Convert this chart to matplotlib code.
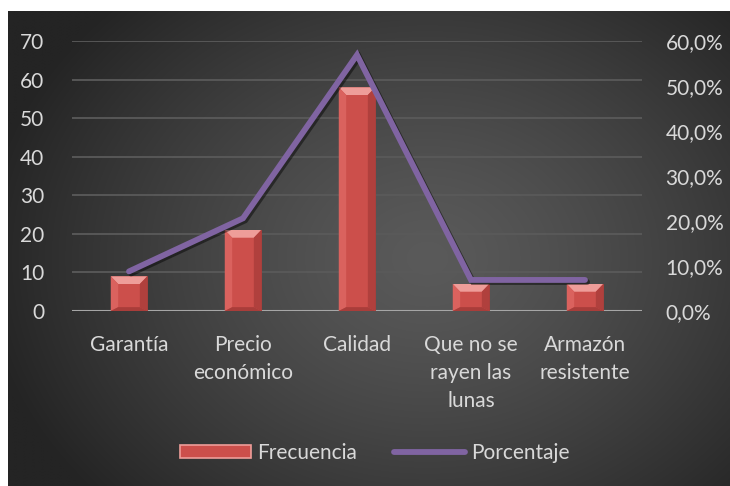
import numpy as np
import matplotlib
matplotlib.use("Agg")
import matplotlib.pyplot as plt
from matplotlib.patches import Polygon
from matplotlib import patheffects as pe
from matplotlib.lines import Line2D
from matplotlib.patches import Patch

plt.rcParams['font.family'] = ['Lato', 'DejaVu Sans']

categories = ["Garantía", "Precio\neconómico", "Calidad", "Que no se\nrayen las\nlunas", "Armazón\nresistente"]
frecuencia = [9, 21, 58, 7, 7]
porcentaje = [0.088, 0.206, 0.569, 0.069, 0.069]
left_ticks = [0, 10, 20, 30, 40, 50, 60, 70]
right_ticks = [0.0, 0.1, 0.2, 0.3, 0.4, 0.5, 0.6]

W, H = 730, 486
fig = plt.figure(figsize=(W / 100, H / 100), dpi=100)
fig.patch.set_facecolor("white")

# dark radial-gradient panel
bg = fig.add_axes([8 / W, 0, (W - 8) / W, (H - 11) / H])
bg.set_axis_off()
ny, nx = 300, 450
yy, xx = np.mgrid[0:ny, 0:nx]
cx, cy = nx * 0.58, ny * 0.52
r = np.sqrt(((xx - cx) / (nx * 0.62)) ** 2 + ((yy - cy) / (ny * 0.75)) ** 2)
r = np.clip(r, 0, 1)
inner, outer = 0x5a, 0x24
val = (inner + (outer - inner) * r ** 1.3) / 255.0
img = np.dstack([val, val, val])
bg.imshow(img, aspect="auto", extent=[0, 1, 0, 1], interpolation="bilinear")
bg.set_xlim(0, 1)
bg.set_ylim(0, 1)

txt = "#d9d9d9"
fs = 15

ax = fig.add_axes([72 / W, (H - 311) / H, (642 - 72) / W, (311 - 41) / H])
ax.patch.set_alpha(0)
x = np.arange(len(categories))
ax.set_xlim(-0.5, len(categories) - 0.5)
ax.set_ylim(0, 70)
ax.set_yticks(left_ticks)
ax.set_yticklabels([str(t) for t in left_ticks])
for t in left_ticks[1:]:
    ax.axhline(t, color="#5a5a5a", lw=1.3, zorder=0)
ax.axhline(0, color="#a6a6a6", lw=1.5, zorder=1)
for s in ax.spines.values():
    s.set_visible(False)
ax.tick_params(axis="both", length=0, colors=txt, labelsize=fs)
ax.tick_params(axis="y", pad=20)
ax.tick_params(axis="x", pad=17)
ax.set_xticks(x)
ax.set_xticklabels(categories, linespacing=1.5, va="top")

bw = 0.32
bars = ax.bar(x, frecuencia, width=bw, color="#cc4f4b", zorder=2,
              edgecolor="#a83e3b", linewidth=0.6)
# bevelled tops and sides
for b in bars:
    x0, w, h = b.get_x(), b.get_width(), b.get_height()
    x1 = x0 + w
    dx, dy = 0.065, 2.0
    ax.add_patch(Polygon([[x0, h], [x1, h], [x1 - dx, h - dy], [x0 + dx, h - dy]],
                         closed=True, color="#ee9d99", lw=0, zorder=3))
    ax.add_patch(Polygon([[x0, h], [x0 + dx, h - dy], [x0 + dx, dy * 0.5], [x0, 0]],
                         closed=True, color="#da625e", lw=0, zorder=3))
    ax.add_patch(Polygon([[x1, h], [x1 - dx, h - dy], [x1 - dx, dy * 0.5], [x1, 0]],
                         closed=True, color="#b0403d", lw=0, zorder=3))
    ax.add_patch(Polygon([[x0, 0], [x1, 0], [x1 - dx, dy * 0.5], [x0 + dx, dy * 0.5]],
                         closed=True, color="#a93d3a", lw=0, zorder=3))

ax2 = ax.twinx()
ax2.set_ylim(0, 0.6)
ax2.set_yticks(right_ticks)
ax2.set_yticklabels([f"{t * 100:.1f}%".replace(".", ",") for t in right_ticks])
for s in ax2.spines.values():
    s.set_visible(False)
ax2.tick_params(axis="y", length=0, colors=txt, labelsize=fs, pad=17)
ax2.plot(x, porcentaje, color="#8064a2", lw=4.2, solid_capstyle="round",
         solid_joinstyle="miter", zorder=4,
         path_effects=[pe.SimpleLineShadow(offset=(1.5, -1.5), shadow_color="black", alpha=0.45),
                       pe.Normal()])

handles = [Patch(facecolor="#cc4f4b", edgecolor="#ee9d99", linewidth=1.2),
           Line2D([0], [0], color="#8064a2", lw=4.2, solid_capstyle="round")]
leg = fig.legend(handles, ["Frecuencia", "Porcentaje"], loc="center",
                 bbox_to_anchor=(375 / W, 1 - 453 / H), ncol=2, frameon=False,
                 fontsize=fs, labelcolor=txt, handlelength=3.4, handleheight=0.6,
                 handletextpad=0.3, columnspacing=1.8)

fig.savefig("out.png", dpi=100)
